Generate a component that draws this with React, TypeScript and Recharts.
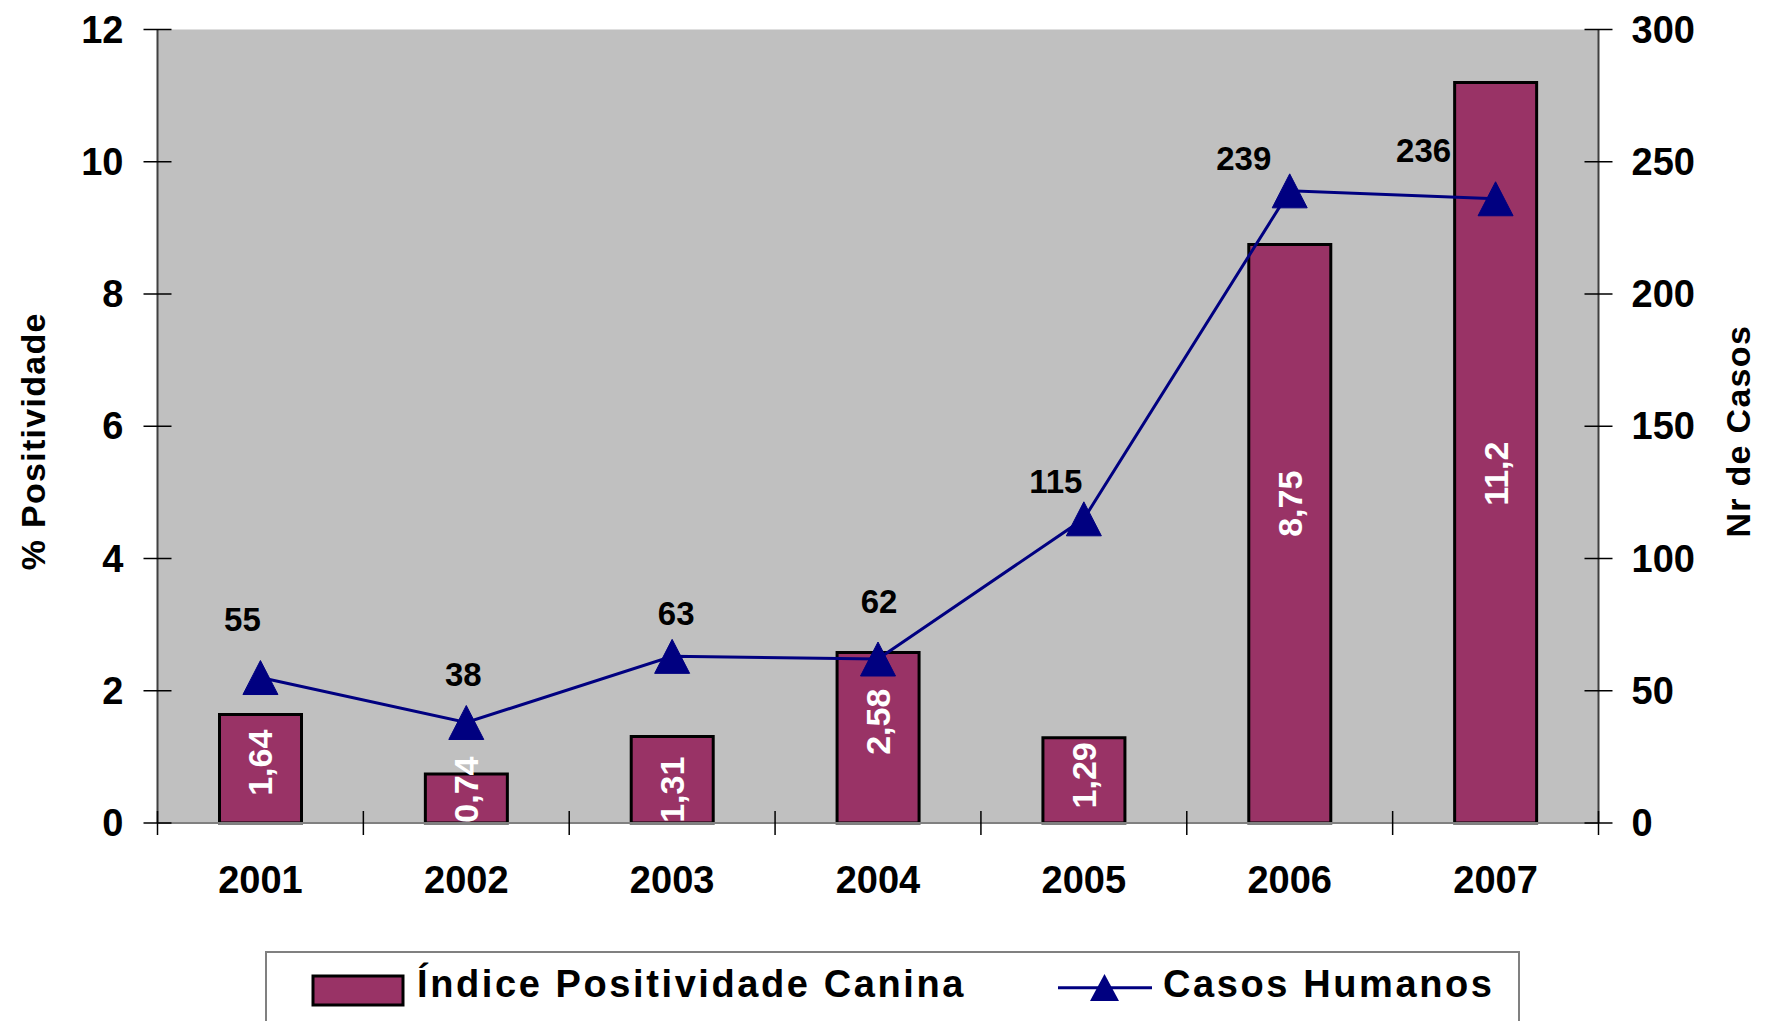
import React from "react";
import {
  ComposedChart,
  Bar,
  Line,
  XAxis,
  YAxis,
  CartesianGrid,
  LabelList,
  Label,
} from "recharts";

const years = ["2001", "2002", "2003", "2004", "2005", "2006", "2007"];
const indiceCanina = [1.64, 0.74, 1.31, 2.58, 1.29, 8.75, 11.2];
const casosHumanos = [55, 38, 63, 62, 115, 239, 236];
const leftTicks = [0, 2, 4, 6, 8, 10, 12];
const rightTicks = [0, 50, 100, 150, 200, 250, 300];

// the original labels were dragged around by hand, so nudge them (px)
const casosLabelOffset = [[-18, -58], [-3, -48], [4, -43], [1, -58], [-28, -37], [-46, -32], [-72, -48]];
const barLabelOffset = [-6, -9, 10, -16, -5, -30, 21];

const W = 1765;
const H = 1021;
const LEFT_W = 157.5;
const RIGHT_W = 166.5;
const TOP = 29.5;
const PLOT_W = W - LEFT_W - RIGHT_W;
const BAND = PLOT_W / years.length;
const FONT = "'Liberation Sans', Arial, Helvetica, sans-serif";
const BAR_COLOR = "#993366";
const LINE_COLOR = "#000080";

const data = years.map((year, i) => ({ year, indice: indiceCanina[i], casos: casosHumanos[i] }));

const fmt = (v: number) => String(v).replace(".", ",");

function LeftTick({ x, y, payload }: any) {
  const ax = x + 34;
  return (
    <g>
      <line x1={ax - 14} x2={ax + 14} y1={y} y2={y} stroke="#000" strokeWidth={1.5} />
      <text x={x} y={y} textAnchor="end" dominantBaseline="central" fontSize={38} fontWeight="bold" fill="#000" fontFamily={FONT}>
        {payload.value}
      </text>
    </g>
  );
}

function RightTick({ x, y, payload }: any) {
  const ax = x - 33;
  return (
    <g>
      <line x1={ax - 14} x2={ax + 14} y1={y} y2={y} stroke="#000" strokeWidth={1.5} />
      <text x={x} y={y} textAnchor="start" dominantBaseline="central" fontSize={38} fontWeight="bold" fill="#000" fontFamily={FONT}>
        {payload.value}
      </text>
    </g>
  );
}

function YearTick({ x, y, payload, index }: any) {
  const ay = y - 12;
  const marks = [x - BAND / 2];
  if (index === years.length - 1) marks.push(x + BAND / 2);
  return (
    <g>
      {marks.map((mx) => (
        <line key={mx} x1={mx} x2={mx} y1={ay - 12} y2={ay + 12} stroke="#000" strokeWidth={1.5} />
      ))}
      <text x={x} y={ay + 57} textAnchor="middle" dominantBaseline="central" fontSize={38} fontWeight="bold" fill="#000" fontFamily={FONT}>
        {payload.value}
      </text>
    </g>
  );
}

function Triangle({ cx, cy, index }: any) {
  if (cx == null || cy == null) return null;
  return (
    <polygon
      key={`tri-${index}`}
      points={`${cx},${cy - 17} ${cx - 17.5},${cy + 17} ${cx + 17.5},${cy + 17}`}
      fill={LINE_COLOR}
      stroke={LINE_COLOR}
      strokeWidth={1}
      strokeLinejoin="round"
    />
  );
}

function BarValue(props: any) {
  const { x, y, width, height, value } = props;
  const i = props.index ?? indiceCanina.indexOf(value);
  const cx = x + width / 2;
  const cy = y + height / 2 + (barLabelOffset[i] ?? 0);
  return (
    <text
      x={cx}
      y={cy}
      transform={`rotate(-90 ${cx} ${cy})`}
      textAnchor="middle"
      dominantBaseline="central"
      fontSize={34}
      fontWeight="bold"
      fill="#fff"
      fontFamily={FONT}
    >
      {fmt(value)}
    </text>
  );
}

function CasosValue(props: any) {
  const { x, y, value } = props;
  const i = props.index ?? casosHumanos.indexOf(value);
  const [dx, dy] = casosLabelOffset[i] ?? [0, -40];
  return (
    <text x={x + dx} y={y + dy} textAnchor="middle" dominantBaseline="central" fontSize={33} fontWeight="bold" fill="#000" fontFamily={FONT}>
      {value}
    </text>
  );
}

function AxisTitle({ viewBox, text, dx, dy }: any) {
  const cx = viewBox.x + dx;
  const cy = viewBox.y + viewBox.height / 2 + dy;
  return (
    <text
      x={cx}
      y={cy}
      transform={`rotate(-90 ${cx} ${cy})`}
      textAnchor="middle"
      dominantBaseline="central"
      fontSize={34}
      fontWeight="bold"
      letterSpacing={1.3}
      fill="#000"
      fontFamily={FONT}
    >
      {text}
    </text>
  );
}

function LegendBox() {
  const txt = { fontSize: 38, fontWeight: "bold" as const, fill: "#000", fontFamily: FONT, letterSpacing: 2.6 };
  return (
    <svg width={1255} height={70} style={{ position: "absolute", left: 265, top: 951 }}>
      <path d="M1,70 V1 H1254 V70" fill="none" stroke="#808080" strokeWidth={2} />
      <rect x={48} y={25} width={90} height={29} fill={BAR_COLOR} stroke="#000" strokeWidth={3} />
      <text x={152} y={46} {...txt}>Índice Positividade Canina</text>
      <line x1={793} x2={887} y1={36.7} y2={36.7} stroke={LINE_COLOR} strokeWidth={3} />
      <polygon points="839.5,23 825,50 854,50" fill={LINE_COLOR} />
      <text x={898} y={46} {...txt}>Casos Humanos</text>
    </svg>
  );
}

export default function App() {
  return (
    <div style={{ position: "relative", width: W, height: H, background: "#fff" }}>
      <style>{"body{margin:0}"}</style>
      <ComposedChart width={W} height={H} data={data} margin={{ top: TOP, right: 0, bottom: 138, left: 0 }}>
        <CartesianGrid xAxisId="main" yAxisId="left" horizontal={false} vertical={false} fill="#C0C0C0" stroke="none" />
        <XAxis
          xAxisId="main"
          dataKey="year"
          height={60}
          interval={0}
          tickSize={12}
          tickMargin={0}
          tickLine={false}
          tick={<YearTick />}
          axisLine={{ stroke: "#808080", strokeWidth: 2 }}
        />
        <XAxis
          xAxisId="top"
          dataKey="year"
          orientation="top"
          height={0}
          tick={false}
          tickLine={false}
          axisLine={{ stroke: "#808080", strokeWidth: 2 }}
        />
        <YAxis
          yAxisId="left"
          width={LEFT_W}
          domain={[0, 12]}
          ticks={leftTicks}
          interval={0}
          tickSize={14}
          tickMargin={20}
          tickLine={false}
          tick={<LeftTick />}
          axisLine={{ stroke: "#404040", strokeWidth: 2 }}
        >
          <Label content={(p: any) => <AxisTitle viewBox={p.viewBox} text="% Positividade" dx={33} dy={15} />} />
        </YAxis>
        <YAxis
          yAxisId="right"
          orientation="right"
          width={RIGHT_W}
          domain={[0, 300]}
          ticks={rightTicks}
          interval={0}
          tickSize={14}
          tickMargin={19}
          tickLine={false}
          tick={<RightTick />}
          axisLine={{ stroke: "#404040", strokeWidth: 2 }}
        >
          <Label content={(p: any) => <AxisTitle viewBox={p.viewBox} text="Nr de Casos" dx={139} dy={5} />} />
        </YAxis>
        <Bar
          xAxisId="main"
          yAxisId="left"
          dataKey="indice"
          fill={BAR_COLOR}
          stroke="#000"
          strokeWidth={3}
          barSize={82}
          isAnimationActive={false}
        >
          <LabelList dataKey="indice" content={<BarValue />} />
        </Bar>
        <Line
          xAxisId="main"
          yAxisId="right"
          dataKey="casos"
          stroke={LINE_COLOR}
          strokeWidth={3}
          dot={(p: any) => <Triangle key={`d-${p.index}`} {...p} />}
          activeDot={false}
          isAnimationActive={false}
        >
          <LabelList dataKey="casos" content={<CasosValue />} />
        </Line>
      </ComposedChart>
      <LegendBox />
    </div>
  );
}
